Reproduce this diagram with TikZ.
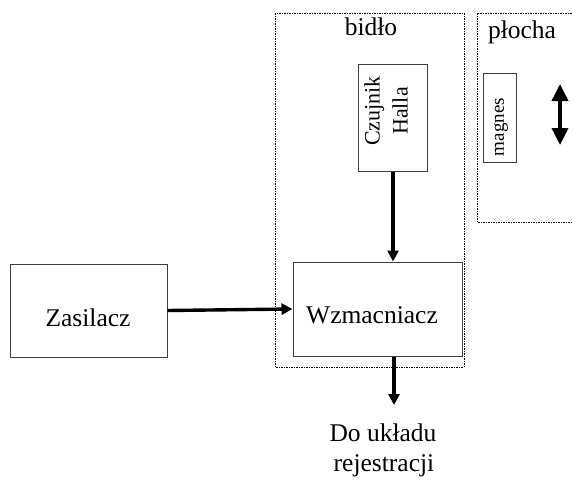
\documentclass[tikz,border=0pt]{standalone}
\usepackage{fontspec}
\setmainfont{Liberation Serif}
\usetikzlibrary{arrows.meta}
\begin{document}
\begin{tikzpicture}[x=1pt,y=-1pt,
  block/.style={draw=black!75,line width=1pt},
  zone/.style={draw=black,line width=0.9pt,dash pattern=on 2.2pt off 1pt on 0.8pt off 1pt},
  flow/.style={line width=3.4pt,-{Triangle[length=11pt,width=11pt]}},
  lbl/.style={font=\fontsize{25.5}{30}\selectfont,inner sep=0pt}]
\useasboundingbox (0,0) rectangle (572,479);

% housing regions
\draw[zone] (275,13) rectangle (464,367);
\draw[zone] (572,13) -- (477,13) -- (477,222) -- (572,222);
\node[lbl,anchor=base] (bidlo) at (371,35) {bidło};
\node[lbl,anchor=base] (plocha) at (522,38) {płocha};

% blocks
\node[block,minimum width=157pt,minimum height=93pt] (zas) at (88.5,310.5) {};
\node[lbl,anchor=base] at (88,326) {Zasilacz};
\node[block,minimum width=169pt,minimum height=94pt] (wzm) at (377.5,309) {};
\node[lbl,anchor=base] at (372,323) {Wzmacniacz};
\node[block,minimum width=69pt,minimum height=107pt] (hall) at (392.5,117.5) {};
\node[rotate=90,align=center,inner sep=0pt,font=\fontsize{22}{28}\selectfont] at (386,111) {Czujnik\\Halla};
\node[block,minimum width=33pt,minimum height=89pt] (mag) at (499.5,117.5) {};
\node[rotate=90,inner sep=0pt,font=\fontsize{19}{22}\selectfont] at (501,127) {magnes};

% output label
\node[lbl,anchor=base] (out1) at (383,441) {Do układu};
\node[lbl,anchor=base] (out2) at (384,471) {rejestracji};
\coordinate (outend) at (394,405);

% signal paths
\draw[flow] (zas.east) -- (wzm.west);
\draw[flow] (hall.south -| 393,0) -- (wzm.north -| 393,0);
\draw[flow] (wzm.south -| 394,0) -- (outend);

% motion of the magnet
\coordinate (mtop) at (560,84);
\coordinate (mbot) at (560,145);
\draw[line width=3.6pt,{Triangle[length=17pt,width=16pt]}-{Triangle[length=17pt,width=16pt]}] (mtop) -- (mbot);
\end{tikzpicture}
\end{document}
